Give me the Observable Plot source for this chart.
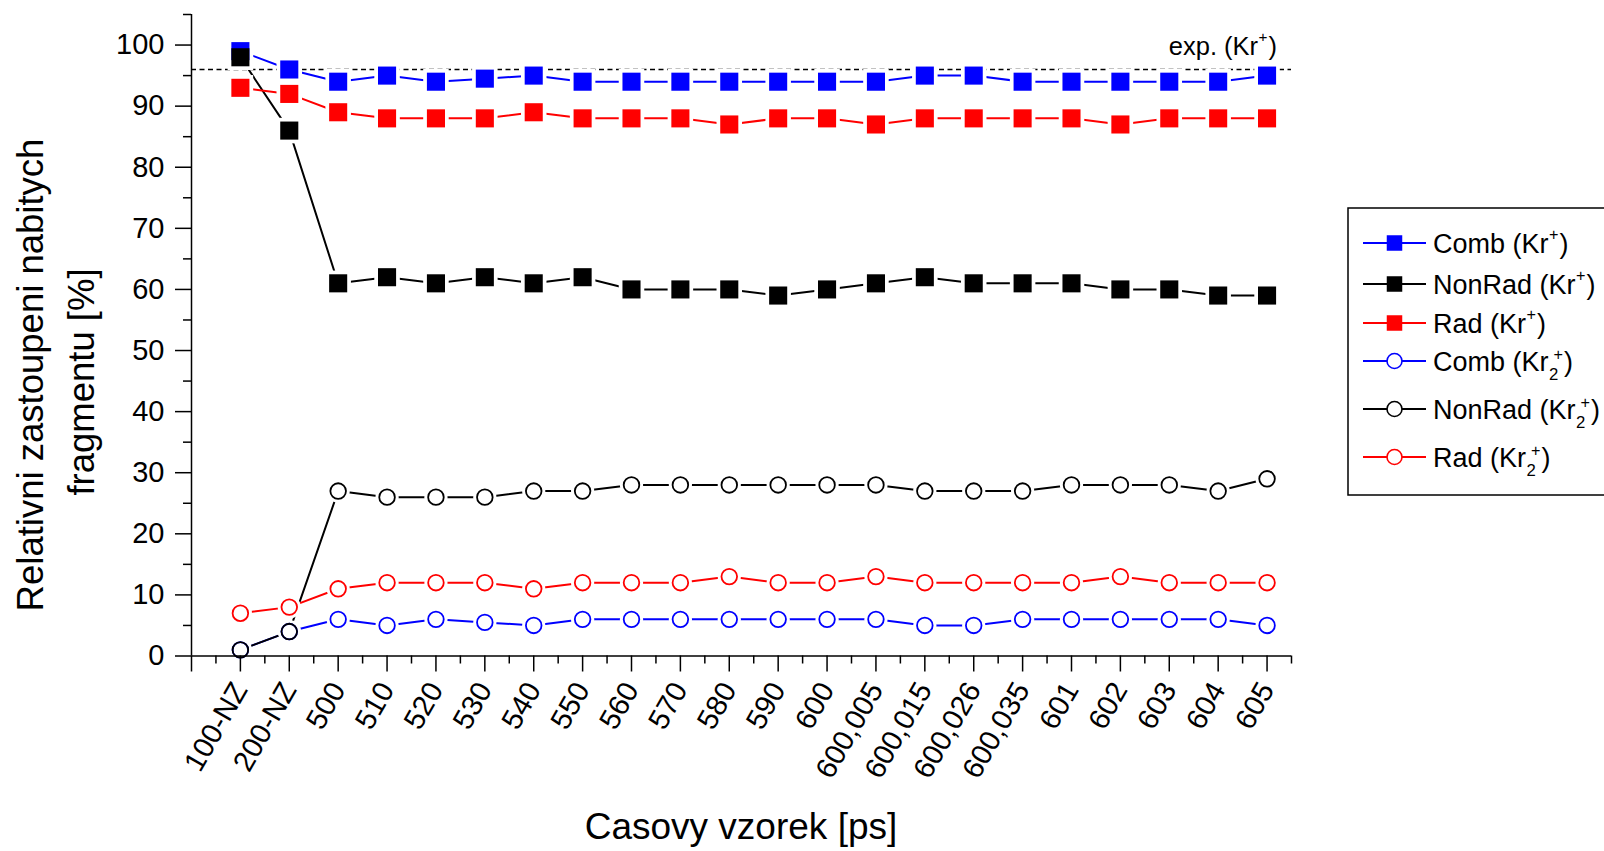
<!DOCTYPE html>
<html>
<head>
<meta charset="utf-8">
<script src="https://cdn.jsdelivr.net/npm/d3@7"></script>
<script src="https://cdn.jsdelivr.net/npm/@observablehq/plot@0.6"></script>
<style>
html, body { margin: 0; padding: 0; background: #fff; overflow: hidden; }
#chart { position: relative; width: 1604px; height: 851px; overflow: hidden; }
svg { font-family: "Liberation Sans", Arial, sans-serif; }
</style>
</head>
<body>
<div id="chart"></div>
<script>
// ---- data ----
const categories = ["100-NZ","200-NZ","500","510","520","530","540","550","560","570","580","590","600","600,005","600,015","600,026","600,035","601","602","603","604","605"];
const combKr    = [99,96,94,95,94,94.5,95,94,94,94,94,94,94,94,95,95,94,94,94,94,94,95];
const nonRadKr  = [98,86,61,62,61,62,61,62,60,60,60,59,60,61,62,61,61,61,60,60,59,59];
const radKr     = [93,92,89,88,88,88,89,88,88,88,87,88,88,87,88,88,88,88,87,88,88,88];
const combKr2   = [1,4,6,5,6,5.5,5,6,6,6,6,6,6,6,5,5,6,6,6,6,6,5];
const nonRadKr2 = [1,4,27,26,26,26,27,27,28,28,28,28,28,28,27,27,27,28,28,28,27,29];
const radKr2    = [7,8,11,12,12,12,11,12,12,12,13,12,12,13,12,12,12,12,13,12,12,12];
const expKr = 96;
const yTicks = [0,10,20,30,40,50,60,70,80,90,100];

const seriesDefs = [
  {name: "Comb",   ion: "Kr",  sub: null, values: combKr,    color: "#0000ff", filled: true},
  {name: "NonRad", ion: "Kr",  sub: null, values: nonRadKr,  color: "#000000", filled: true},
  {name: "Rad",    ion: "Kr",  sub: null, values: radKr,     color: "#ff0000", filled: true},
  {name: "Comb",   ion: "Kr",  sub: "2",  values: combKr2,   color: "#0000ff", filled: false},
  {name: "NonRad", ion: "Kr",  sub: "2",  values: nonRadKr2, color: "#000000", filled: false},
  {name: "Rad",    ion: "Kr",  sub: "2",  values: radKr2,    color: "#ff0000", filled: false}
];

const SQ_R = 10.2, SQ_HALO = 14.4, CI_R = 7.8, CI_HALO = 11.6;

const marks = [];
marks.push(Plot.ruleY([expKr], {x1: -1, x2: 21.5, stroke: "#000", strokeWidth: 1.3, strokeDasharray: "5,3.5"}));
for (const s of seriesDefs) {
  const data = s.values.map((v, i) => ({i, v}));
  marks.push(Plot.line(data, {x: "i", y: "v", stroke: s.color, strokeWidth: 2}));
  marks.push(Plot.dot(data, {x: "i", y: "v", symbol: s.filled ? "square" : "circle", r: s.filled ? SQ_HALO : CI_HALO, fill: "white", stroke: "none"}));
}
for (const s of seriesDefs) {
  const data = s.values.map((v, i) => ({i, v}));
  if (s.filled) {
    marks.push(Plot.dot(data, {x: "i", y: "v", symbol: "square", r: SQ_R, fill: s.color, stroke: "none"}));
  } else {
    marks.push(Plot.dot(data, {x: "i", y: "v", symbol: "circle", r: CI_R, fill: "none", stroke: s.color, strokeWidth: 1.8}));
  }
}
// axes
marks.push(Plot.ruleX([-1], {y1: 0, y2: 105, stroke: "#000", strokeWidth: 1.5}));
marks.push(Plot.ruleY([0], {x1: -1, x2: 21.5, stroke: "#000", strokeWidth: 1.5}));
marks.push(Plot.axisY({ticks: yTicks, tickSize: 16, tickPadding: 11, tickFormat: d => String(d), label: null, fontSize: 29, strokeWidth: 1.5}));
marks.push(Plot.axisY({ticks: d3.range(5, 106, 10), tickSize: 8, tickFormat: () => "", label: null, strokeWidth: 1.5}));
marks.push(Plot.axisX({ticks: d3.range(-1, 22), tickSize: 16, tickPadding: 13, tickRotate: -60, tickFormat: i => categories[i] ?? "", label: null, fontSize: 29, strokeWidth: 1.5}));
marks.push(Plot.axisX({ticks: d3.range(-0.5, 21.6, 1), tickSize: 8, tickFormat: () => "", label: null, strokeWidth: 1.5}));

const chart = Plot.plot({
  width: 1604,
  height: 851,
  marginLeft: 191,
  marginRight: 313,
  marginTop: 14,
  marginBottom: 195.5,
  x: {type: "linear", domain: [-1, 21.5]},
  y: {type: "linear", domain: [0, 105]},
  style: {fontFamily: '"Liberation Sans", Arial, sans-serif', fontSize: "29px", color: "#000", background: "white"},
  marks
});
document.getElementById("chart").appendChild(chart);

const svg = d3.select(chart);
const sx = chart.scale("x"), sy = chart.scale("y");
const FONT = '"Liberation Sans", Arial, sans-serif';

function txt(g, x, y, s, fs) {
  return g.append("text").attr("x", x).attr("y", y).attr("font-size", fs).attr("font-family", FONT)
    .attr("text-anchor", "start").attr("fill", "#000").text(s);
}
// rich label: base text + optional subscript + superscript "+" + tail
function richLabel(g, base, sub, tail, fs) {
  const t1 = txt(g, 0, 0, base, fs);
  const w = t1.node().getComputedTextLength();
  let wExtra = 0;
  if (sub) {
    const ts = txt(g, w + 0.5, 9, sub, fs * 0.62);
    const wsub = ts.node().getComputedTextLength();
    const tp = txt(g, w + 5, -11, "+", fs * 0.6);
    wExtra = Math.max(wsub + 0.5, tp.node().getComputedTextLength() + 5);
  } else {
    const tp = txt(g, w + 0.5, -13, "+", fs * 0.6);
    wExtra = tp.node().getComputedTextLength() + 0.5;
  }
  const t3 = txt(g, w + wExtra + 1, 0, tail, fs);
  return w + wExtra + 1 + t3.node().getComputedTextLength();
}

// exp. label (right-aligned above the dashed line)
{
  const g = svg.append("g");
  const width = richLabel(g, "exp. (Kr", null, ")", 25.5);
  g.attr("transform", `translate(${sx.apply(21.5) - 14 - width},${sy.apply(expKr) - 14})`);
}

// axis titles
svg.append("text").attr("transform", "translate(43,375) rotate(-90)").attr("text-anchor", "middle")
  .attr("font-size", 36.5).attr("font-family", FONT).attr("fill", "#000").text("Relativni zastoupeni nabitych");
svg.append("text").attr("transform", "translate(93.5,382) rotate(-90)").attr("text-anchor", "middle")
  .attr("font-size", 36.5).attr("font-family", FONT).attr("fill", "#000").text("fragmentu [%]");
svg.append("text").attr("x", (sx.apply(-1) + sx.apply(21.5)) / 2).attr("y", 839).attr("text-anchor", "middle")
  .attr("font-size", 37).attr("font-family", FONT).attr("fill", "#000").text("Casovy vzorek [ps]");

// legend
{
  const lg = svg.append("g");
  lg.append("rect").attr("x", 1348).attr("y", 208).attr("width", 300).attr("height", 287)
    .attr("fill", "white").attr("stroke", "#000").attr("stroke-width", 1.5);
  const rowY = [243, 284, 323, 361, 409, 457];
  seriesDefs.forEach((s, k) => {
    const y = rowY[k];
    lg.append("line").attr("x1", 1363).attr("x2", 1426).attr("y1", y).attr("y2", y).attr("stroke", s.color).attr("stroke-width", 1.8);
    if (s.filled) {
      const side = 15.5;
      lg.append("rect").attr("x", 1394.5 - side / 2).attr("y", y - side / 2).attr("width", side).attr("height", side).attr("fill", s.color);
    } else {
      lg.append("circle").attr("cx", 1394.5).attr("cy", y).attr("r", 7.5).attr("fill", "white").attr("stroke", s.color).attr("stroke-width", 1.6);
    }
    const g = lg.append("g").attr("transform", `translate(1433,${y + 10})`);
    richLabel(g, `${s.name} (${s.ion}`, s.sub, ")", 27);
  });
}
</script>
</body>
</html>
